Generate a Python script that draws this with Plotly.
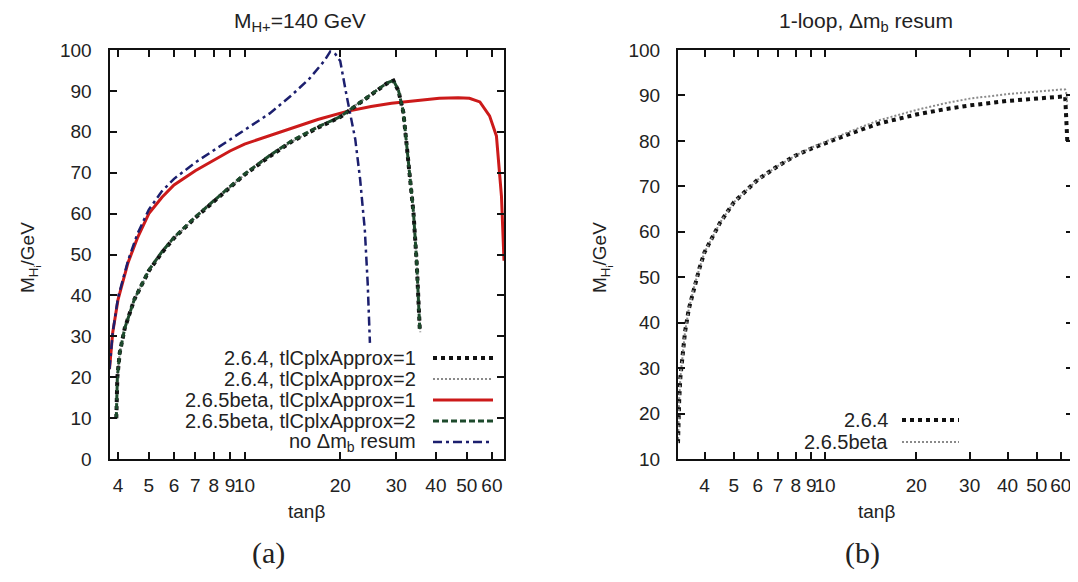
import math
import plotly.graph_objects as go

# ---- panel (a): M_H+ = 140 GeV ----
tb_264_1 = [3.95, 3.96, 3.98, 4.05, 4.2, 4.5, 5, 5.5, 6, 7, 8, 9, 10, 12, 14, 17, 20, 23, 26, 28, 29.4, 30.5, 31.6, 32.8, 34.0, 34.8, 35.6]
mh_264_1 = [10, 15, 20, 26, 32, 39, 46, 50.5, 54, 59, 63, 66.5, 69.5, 74, 77.5, 81, 83.6, 87, 90, 91.8, 92.5, 90, 84.7, 72.5, 60.2, 48, 31.5]

tb_264_2 = [3.95, 3.96, 3.98, 4.05, 4.2, 4.5, 5, 5.5, 6, 7, 8, 9, 10, 12, 14, 17, 20, 23, 26, 28, 29.4, 30.5, 31.6, 32.8, 34.0, 34.8, 35.7]
mh_264_2 = [10, 15, 20, 26, 32, 39, 46, 50.5, 54, 59, 63, 66.5, 69.5, 74, 77.5, 81, 83.8, 87.2, 90.2, 92, 92.7, 90.2, 84.9, 72.7, 60.4, 48.2, 31.0]

tb_265_1 = [3.76, 3.85, 4, 4.3, 4.6, 5, 5.5, 6, 7, 8, 9, 10, 12, 14, 17, 21, 25, 29, 35, 41, 47, 51, 55, 59, 62, 64.3, 65.5]
mh_265_1 = [22, 31, 39, 48, 54, 60, 64, 67, 70.5, 73, 75.3, 77, 79, 80.7, 83, 85, 86.2, 87, 87.7, 88.2, 88.3, 88.2, 87.3, 83.9, 79, 64.3, 48.5]

tb_265_2 = [3.95, 3.96, 3.98, 4.05, 4.2, 4.5, 5, 5.5, 6, 7, 8, 9, 10, 12, 14, 17, 20, 23, 26, 28, 29.4, 30.5, 31.6, 32.8, 34.0, 34.8, 35.6]
mh_265_2 = [10, 15, 20, 26, 32, 39, 46.2, 50.7, 54.2, 59.2, 63.2, 66.7, 69.7, 74.2, 77.7, 81.2, 83.7, 87.1, 90.1, 91.9, 92.6, 90.1, 84.8, 72.6, 60.3, 48.1, 31.5]

tb_nores = [3.76, 3.85, 4, 4.3, 4.6, 5, 5.5, 6, 7, 8, 9, 10, 12, 14, 16, 17.8, 18.6, 19.3, 20, 20.95, 22.3, 23.1, 23.9, 24.4, 24.8]
mh_nores = [22, 31, 39.5, 48.5, 55, 61, 65.5, 68.5, 72.5, 75.5, 78, 80.5, 84.5, 88.8, 93, 97.3, 99.6, 99.0, 97.3, 88.8, 78.2, 68.4, 56, 43, 28.4]

# ---- panel (b): 1-loop, dm_b resummed ----
tb_1loop = [3.27, 3.28, 3.3, 3.33, 3.38, 3.45, 3.55, 3.7, 3.85, 4, 4.5, 5, 6, 7, 8, 9, 10, 12, 15, 20, 25, 30, 40, 50, 60, 62, 62.5, 63]
mh_1loop_264 = [13.5, 18, 23, 28, 33, 38, 43, 48, 52, 55.5, 62, 66.5, 71.5, 74.5, 76.8, 78.3, 79.5, 81.5, 83.8, 85.8, 87, 87.8, 88.8, 89.4, 89.7, 89.8, 85, 80]
mh_1loop_265 = [13.5, 18, 23, 28, 33, 38, 43, 48, 52, 55.5, 62, 66.5, 71.5, 74.5, 76.8, 78.5, 79.8, 82, 84.5, 86.8, 88.3, 89.3, 90.3, 90.9, 91.3, 91.3, 90.5, 88]

tick_vals = [4, 5, 6, 7, 8, 9, 10, 20, 30, 40, 50, 60]
tick_text = ["4", "5", "6", "7", "8", "9", "10", "20", "30", "40", "50", "60"]

# the page body keeps its default 8px margin, so the figure is drawn 8px in
OFF = 8
W, H = 1078 - OFF, 582 - OFF
FONT = "Liberation Sans, Arial, Helvetica, sans-serif"

STYLE = {
    "264_1": dict(color="#111111", width=4, dash="4px,4px"),
    "264_2": dict(color="#8a8a8a", width=2, dash="2px,2px"),
    "265_1": dict(color="#cc1a1a", width=3, dash="solid"),
    "265_2": dict(color="#1d4a2c", width=3, dash="6px,3px"),
    "nores": dict(color="#1c1f6e", width=2.5, dash="9px,4px,3px,4px"),
}


def px(x):
    # window pixel -> paper fraction
    return (x - OFF) / W


def py(y):
    return 1 - (y - OFF) / H


fig = go.Figure()

left = [
    ("265_1", tb_265_1, mh_265_1),
    ("nores", tb_nores, mh_nores),
    ("264_2", tb_264_2, mh_264_2),
    ("264_1", tb_264_1, mh_264_1),
    ("265_2", tb_265_2, mh_265_2),
]
for key, xs, ys in left:
    fig.add_trace(go.Scatter(x=xs, y=ys, mode="lines", line=STYLE[key], showlegend=False,
                             xaxis="x", yaxis="y"))

fig.add_trace(go.Scatter(x=tb_1loop, y=mh_1loop_264, mode="lines", line=STYLE["264_1"],
                         showlegend=False, xaxis="x2", yaxis="y2"))
fig.add_trace(go.Scatter(x=tb_1loop, y=mh_1loop_265, mode="lines", line=STYLE["264_2"],
                         showlegend=False, xaxis="x2", yaxis="y2"))

axis_common = dict(
    showline=True, linecolor="#111111", linewidth=2, mirror="ticks",
    ticks="inside", ticklen=7, tickwidth=1.5, tickcolor="#111111",
    showgrid=False, zeroline=False, automargin=False,
    tickfont=dict(family=FONT, size=19, color="#222222"),
)
ydom = [py(459), py(50)]

fig.update_layout(
    width=W, height=H,
    margin=dict(l=0, r=0, t=0, b=0),
    paper_bgcolor="white", plot_bgcolor="white",
    font=dict(family=FONT, size=19, color="#222222"),
    xaxis=dict(axis_common, type="log", domain=[px(109.5), px(504)],
               range=[math.log10(3.76), math.log10(65.5)], tickangle=0,
               tickvals=tick_vals, ticktext=tick_text, anchor="y", ticklabelstandoff=8),
    yaxis=dict(axis_common, domain=ydom, range=[0, 100], tickvals=list(range(0, 101, 10)),
               anchor="x", ticklabelstandoff=12),
    xaxis2=dict(axis_common, type="log", domain=[px(678), px(1073)],
                range=[math.log10(3.27), math.log10(65.8)], tickangle=0,
                tickvals=tick_vals, ticktext=tick_text, anchor="y2", ticklabelstandoff=8),
    yaxis2=dict(axis_common, domain=ydom, range=[10, 100], tickvals=list(range(10, 101, 10)),
                anchor="x2", ticklabelstandoff=12),
)

ann = []
shapes = []


def text(x, y, s, size=19, xanchor="center", angle=0, family=FONT):
    ann.append(dict(x=px(x), y=py(y), xref="paper", yref="paper", text=s, showarrow=False,
                    xanchor=xanchor, yanchor="middle", textangle=angle,
                    font=dict(family=family, size=size, color="#222222")))


text(300, 22, "M<sub>H+</sub>=140 GeV", size=21)
text(866, 22, "1-loop, Δm<sub>b</sub> resum", size=21)
text(306, 511, "tanβ")
text(876, 511, "tanβ")
text(30, 258, "M<sub>H<sub>i</sub></sub>/GeV", angle=-90)
text(602, 258, "M<sub>H<sub>i</sub></sub>/GeV", angle=-90)
text(268, 553, "(a)", size=30, family="Liberation Serif, DejaVu Serif, serif")
text(862, 553, "(b)", size=30, family="Liberation Serif, DejaVu Serif, serif")

legend_a = [
    ("2.6.4, tlCplxApprox=1", "264_1"),
    ("2.6.4, tlCplxApprox=2", "264_2"),
    ("2.6.5beta, tlCplxApprox=1", "265_1"),
    ("2.6.5beta, tlCplxApprox=2", "265_2"),
    ("no Δm<sub>b</sub> resum", "nores"),
]
for i, (label, key) in enumerate(legend_a):
    yy = 358 + i * 21
    text(418, yy, label, size=20, xanchor="right")
    shapes.append(dict(type="line", xref="paper", yref="paper", x0=px(433), x1=px(493),
                       y0=py(yy), y1=py(yy), line=STYLE[key]))

legend_b = [("2.6.4", "264_1"), ("2.6.5beta", "264_2")]
for i, (label, key) in enumerate(legend_b):
    yy = 420 + i * 22
    text(890, yy, label, size=20, xanchor="right")
    shapes.append(dict(type="line", xref="paper", yref="paper", x0=px(902), x1=px(959),
                       y0=py(yy), y1=py(yy), line=STYLE[key]))

fig.update_layout(annotations=ann, shapes=shapes)
fig.write_html("out.html")
